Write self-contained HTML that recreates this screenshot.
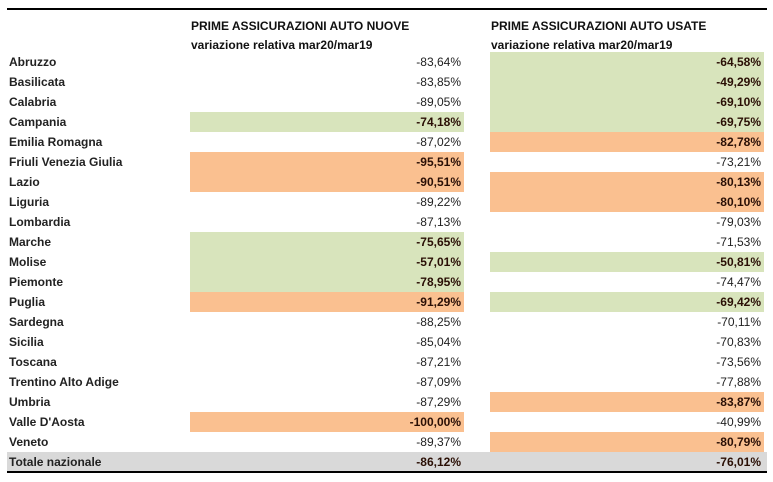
<!DOCTYPE html>
<html><head><meta charset="utf-8"><style>
body{margin:0;width:773px;height:482px;background:#fff;position:relative;overflow:hidden;font-family:"Liberation Sans",Arial,sans-serif;font-size:12px;color:#222}
.a{position:absolute;white-space:nowrap}
.lbl{font-weight:bold;left:9px;line-height:20px}
.c{line-height:20px;text-align:right;padding-right:3px;box-sizing:border-box}
.b{font-weight:bold;color:#2a0f05}
.h{font-weight:bold;font-size:12px;color:#111}
</style></head><body>
<div class="a" style="left:7px;top:8px;width:760px;height:2px;background:#000"></div>
<div class="a h" style="left:191px;top:17px;line-height:19px">PRIME ASSICURAZIONI AUTO NUOVE<br>variazione relativa mar20/mar19</div>
<div class="a h" style="left:491px;top:17px;line-height:19px">PRIME ASSICURAZIONI AUTO USATE<br>variazione relativa mar20/mar19</div>
<div id="tbl"></div>
<div class="a" style="left:7px;top:471px;width:760px;height:2px;background:#000"></div>
<script>
const regions=["Abruzzo","Basilicata","Calabria","Campania","Emilia Romagna","Friuli Venezia Giulia","Lazio","Liguria","Lombardia","Marche","Molise","Piemonte","Puglia","Sardegna","Sicilia","Toscana","Trentino Alto Adige","Umbria","Valle D'Aosta","Veneto","Totale nazionale"];
const newVals=[-83.64,-83.85,-89.05,-74.18,-87.02,-95.51,-90.51,-89.22,-87.13,-75.65,-57.01,-78.95,-91.29,-88.25,-85.04,-87.21,-87.09,-87.29,-100.00,-89.37,-86.12];
const usedVals=[-64.58,-49.29,-69.10,-69.75,-82.78,-73.21,-80.13,-80.10,-79.03,-71.53,-50.81,-74.47,-69.42,-70.11,-70.83,-73.56,-77.88,-83.87,-40.99,-80.79,-76.01];
const newHi=["","","","g","","o","o","","","g","g","g","o","","","","","","o","",""];
const usedHi=["g","g","g","g","o","","o","o","","","g","","g","","","","","o","","o",""];
const colors={g:"#d8e4bc",o:"#fac090"};
const fmt=v=>v.toFixed(2).replace(".",",")+"%";
const root=document.getElementById('tbl');
function rowY(i){return 52+20*i;}
function cell(x,w,i,v,hi,name,bold){
  const d=document.createElement('div');
  
  
  d.className='a c'+((hi||bold)?' b':'');
  d.style.left=x+'px';d.style.width=w+'px';d.style.top=rowY(i)+'px';d.style.height='20px';
  if(hi)d.style.background=colors[hi];
  d.textContent=fmt(v);
  root.appendChild(d);
}
regions.forEach((r,i)=>{
  const tot=i===regions.length-1;
  if(tot){
    const g=document.createElement('div');
    
    
    g.className='a';g.style.cssText='left:7px;width:760px;top:'+rowY(i)+'px;height:19px;background:#d9d9d9';
    root.appendChild(g);
  }
  const l=document.createElement('div');
  
  
  l.className='a lbl';l.style.top=rowY(i)+'px';l.textContent=r;
  root.appendChild(l);
  cell(190,274,i,newVals[i],newHi[i],'new-value',tot);
  cell(490,274,i,usedVals[i],usedHi[i],'used-value',tot);
});
</script>
</body></html>
